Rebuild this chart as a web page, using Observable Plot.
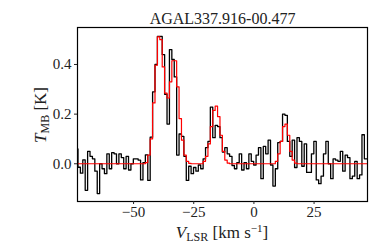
<!DOCTYPE html>
<html>
<head>
<meta charset="utf-8">
<script src="https://cdn.jsdelivr.net/npm/d3@7"></script>
<script src="https://cdn.jsdelivr.net/npm/@observablehq/plot@0.6"></script>
<style>
  html, body { margin: 0; padding: 0; background: white; }
</style>
</head>
<body>
<div id="chart"></div>
<script>
const title = "AGAL337.916-00.477";
const xTicks = [-50, -25, 0, 25];
const yTicks = [0.0, 0.2, 0.4];

// channel velocities (km/s)
const velocity = [
  -73.6,-72.6,-71.6,-70.6,-69.6,-68.6,-67.6,-66.6,-65.6,-64.6,
  -63.6,-62.6,-61.6,-60.6,-59.6,-58.6,-57.6,-56.6,-55.6,-54.6,
  -53.6,-52.6,-51.6,-50.6,-49.6,-48.6,-47.6,-46.6,-45.6,-44.6,
  -43.6,-42.6,-41.6,-40.6,-39.6,-38.6,-37.6,-36.6,-35.6,-34.6,
  -33.6,-32.6,-31.6,-30.6,-29.6,-28.6,-27.6,-26.6,-25.6,-24.6,
  -23.6,-22.6,-21.6,-20.6,-19.6,-18.6,-17.6,-16.6,-15.6,-14.6,
  -13.6,-12.6,-11.6,-10.6,-9.6,-8.6,-7.6,-6.6,-5.6,-4.6,
  -3.6,-2.6,-1.6,-0.6,0.4,1.4,2.4,3.4,4.4,5.4,
  6.4,7.4,8.4,9.4,10.4,11.4,12.4,13.4,14.4,15.4,
  16.4,17.4,18.4,19.4,20.4,21.4,22.4,23.4,24.4,25.4,
  26.4,27.4,28.4,29.4,30.4,31.4,32.4,33.4,34.4,35.4,
  36.4,37.4,38.4,39.4,40.4,41.4,42.4,43.4,44.4,45.4,
  46.4,47.4
];

// observed T_MB (K)
const observed = [
  0.06,-0.014,-0.038,0.016,-0.107,0.05,0.03,0.02,-0.03,-0.12,
  0.0,-0.02,-0.04,0.04,-0.02,0.045,0.04,0.0,0.04,0.025,
  -0.02,0.03,-0.025,0.0,0.02,0.02,0.015,-0.065,0.005,0.036,
  -0.067,0.107,0.29,0.40,0.513,0.513,0.44,0.28,0.16,0.46,
  0.42,0.35,0.035,0.12,0.11,0.03,-0.067,-0.01,-0.04,-0.015,
  -0.03,-0.005,-0.02,0.02,0.065,0.09,0.228,0.105,0.155,0.15,
  0.105,0.047,0.065,0.04,0.03,-0.007,-0.02,0.005,0.04,-0.025,
  0.005,-0.02,0.04,0.01,-0.005,0.035,0.065,-0.06,0.07,0.04,
  0.095,-0.005,-0.09,-0.02,0.085,0.09,0.20,0.195,0.09,0.03,
  0.095,-0.015,0.105,0.09,-0.01,0.08,-0.035,-0.035,0.04,0.09,
  -0.065,-0.08,-0.05,0.04,0.09,0.0,-0.06,0.02,0.015,0.01,
  0.05,-0.03,0.035,0.025,-0.06,-0.05,0.01,-0.06,-0.045,0.117,
  0.02,0.02
];

// fitted model T_MB (K)
const fitted = [
  0,0,0,0,0,0,0,0,0,0,
  0,0,0,0,0,0,0,0,0,0,
  0,0,0,0,0,0,0,0,0,0.005,
  0.035,0.10,0.245,0.397,0.511,0.50,0.39,0.285,0.265,0.33,
  0.415,0.415,0.31,0.182,0.095,0.035,0.01,0.002,0,0,
  0,0,0,0.01,0.03,0.08,0.15,0.215,0.232,0.19,
  0.115,0.05,0.015,0.003,0,0,0,0,0,0,
  0,0,0,0,0,0,0,0,0,0,
  0,0,0,0.01,0.04,0.09,0.15,0.16,0.115,0.05,
  0.015,0.003,0,0,0,0,0,0,0,0,
  0,0,0,0,0,0,0,0,0,0,
  0,0,0,0,0,0,0,0,0,0,
  0,0
];

const rows = velocity.map((v, i) => ({v, obs: observed[i], fit: fitted[i]}));

const font = "'Liberation Serif', 'DejaVu Serif', serif";

const chart = Plot.plot({
  width: 374,
  height: 249,
  marginLeft: 77,
  marginRight: 7,
  marginTop: 27,
  marginBottom: 48,
  style: {fontFamily: font, fontSize: "15px", background: "white", color: "#222"},
  x: {domain: [-73.3, 47.2]},
  y: {domain: [-0.152, 0.549]},
  marks: [
    Plot.line(rows, {x: "v", y: "obs", curve: "step", stroke: "black", strokeWidth: 1.3, clip: true}),
    Plot.line(rows, {x: "v", y: "fit", curve: "step", stroke: "red", strokeWidth: 1.2, clip: true}),
    Plot.frame({stroke: "black", strokeWidth: 1.2}),
    Plot.axisX({ticks: xTicks, tickSize: 3, tickPadding: 2, label: null, fontSize: 15}),
    Plot.axisY({ticks: yTicks, tickSize: 3, tickPadding: 3, tickFormat: d3.format(".1f"), label: null, fontSize: 15}),
    Plot.text([title], {frameAnchor: "top", dy: -4, lineAnchor: "bottom", fontSize: 16, fill: "#222"})
  ]
});

document.getElementById("chart").appendChild(chart);

const svg = d3.select(chart);
// x-axis label
const xl = svg.append("text")
  .attr("x", 222).attr("y", 238)
  .attr("text-anchor", "middle")
  .attr("font-family", font).attr("font-size", 17).attr("fill", "#222");
xl.append("tspan").attr("font-style", "italic").text("V");
xl.append("tspan").attr("font-size", 12).attr("dy", 3).text("LSR");
xl.append("tspan").attr("dy", -3).text(" [km s");
xl.append("tspan").attr("font-size", 11).attr("dy", -6).text("−1");
xl.append("tspan").attr("dy", 6).text("]");

// y-axis label
const yl = svg.append("text")
  .attr("transform", "translate(46,115) rotate(-90)")
  .attr("text-anchor", "middle")
  .attr("font-family", font).attr("font-size", 17).attr("fill", "#222");
yl.append("tspan").attr("font-style", "italic").text("T");
yl.append("tspan").attr("font-size", 12).attr("dy", 3).text("MB");
yl.append("tspan").attr("dy", -3).text(" [K]");
</script>
</body>
</html>
